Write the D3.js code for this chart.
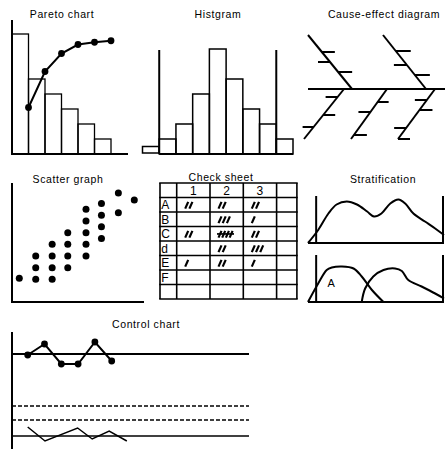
<!DOCTYPE html>
<html>
<head>
<meta charset="utf-8">
<script src="https://cdn.jsdelivr.net/npm/d3@7"></script>
<style>
  html, body { margin: 0; padding: 0; background: #fff; }
  svg { display: block; }
  text { font-family: "Liberation Sans", Arial, sans-serif; font-size: 10.5px; letter-spacing: 0.6px; fill: #000; }
  text.lbl { font-size: 12px; letter-spacing: 0; }
</style>
</head>
<body>
<svg id="chart" width="445" height="449"></svg>
<script>
// ---------- Pareto chart ----------
const paretoCategories = ["a", "b", "c", "d", "e", "f"];
const paretoCounts = [8, 5, 4, 3, 2, 1];
const paretoCumulative = [3.1, 5.5, 6.7, 7.3, 7.45, 7.55];

// ---------- Histogram ----------
const histBins = [0, 1, 2, 3, 4, 5, 6, 7, 8];
const histCounts = [0.5, 1, 2, 4, 7, 5, 3, 2, 1];
const histSpecLimits = [1, 8];

// ---------- Cause-effect (fishbone) ----------
const fishSpine = [0, 137];
const fishBones = [
  { from: [0, -54], to: [44, 0] },
  { from: [75, -54], to: [118, 0] },
  { from: [36, 0], to: [-4, 50] },
  { from: [79, 0], to: [43, 50] },
  { from: [127, 0], to: [90, 50] }
];
// [bone, level along the bone, side (+1 right / -1 left), length]
const fishTicks = [
  [0, -37, 1, 13], [0, -27, -1, 12], [0, -17, 1, 14],
  [1, -38, 1, 15], [1, -24, -1, 13], [1, -14, 1, 15],
  [2, 8, -1, 12], [2, 26, 1, 12], [2, 38, -1, 11],
  [3, 13, 1, 11], [3, 23, -1, 12], [3, 46, 1, 13],
  [4, 11, -1, 12], [4, 21, 1, 13], [4, 39, -1, 12], [4, 50, 1, 12]
];

// ---------- Scatter graph ----------
const scatterX = [1, 2, 2, 2, 3, 3, 3, 3, 3.95, 3.95, 3.95, 3.95, 5.06, 5.06, 5.06, 5.06, 5.06, 6, 6, 6, 6, 7.03, 7.03, 8];
const scatterY = [1.1, 1, 2, 3, 1, 2, 3, 4, 2, 3, 4, 5, 3, 4, 5, 6, 7, 4.5, 5.5, 6.5, 7.5, 6.7, 8.4, 7.8];

// ---------- Check sheet ----------
const checkColumns = ["1", "2", "3", ""];
const checkRows = ["A", "B", "C", "d", "E", "F", ""];
const checkTallies = [
  [2, 2, 2, 0],
  [0, 3, 1, 0],
  [2, 5, 2, 0],
  [0, 2, 3, 0],
  [1, 2, 1, 0],
  [0, 0, 0, 0],
  [0, 0, 0, 0]
];

// ---------- Stratification ----------
const strataTotal = [[0, 0], [1.5, 2.6], [3.0, 5.9], [4.2, 7.7], [5.7, 8.3], [7.2, 7.7], [8.7, 6.3], [9.7, 5.3],
  [10.8, 5.9], [12.1, 7.9], [13.3, 8.7], [14.3, 7.9], [15.5, 5.9], [17.2, 4.3], [18.7, 2.9], [20, 1.6]];
const strataA = [[0, 0], [1.5, 3.7], [2.75, 6.4], [3.5, 6.9], [5.0, 7.1], [6.7, 6.7], [7.9, 5.1], [9.4, 2.4], [11.1, 0]];
const strataB = [[7.9, 0], [8.4, 2.7], [9.6, 5.1], [11.1, 6.4], [12.8, 6.7], [13.8, 6.2], [14.75, 4.4], [16.7, 3.1], [18.7, 1.7], [20, 0.7]];
const strataLimits = [1.2, 19.85];
const strataLabel = ["A", 3.4, 3.8];

// ---------- Control chart ----------
const controlSamples = [0, 1, 2, 3, 4, 5];
const controlMeans = [9.1, 10.2, 8.2, 8.2, 10.4, 8.5];
const controlRangeX = [0, 1.03, 2.97, 3.84, 4.85, 5.9];
const controlRanges = [1.9, 0.5, 1.8, 0.7, 1.5, 0.5];
const controlLines = [9.2, 4.0, 2.6, 1.0];

const titles = [
  ["Pareto chart", 62, 18],
  ["Histgram", 218, 18],
  ["Cause-effect diagram", 384, 18],
  ["Scatter graph", 68, 183],
  ["Check sheet", 221, 181],
  ["Stratification", 383, 183],
  ["Control chart", 146, 328]
];

const svg = d3.select("#chart");
const ink = "#000";

svg.selectAll("text.title").data(titles).join("text")
  .attr("class", "title")
  .attr("x", d => d[1]).attr("y", d => d[2])
  .attr("text-anchor", "middle")
  .text(d => d[0]);

function hline(g, x1, x2, y, w) {
  g.append("line").attr("x1", x1).attr("x2", x2).attr("y1", y).attr("y2", y)
    .attr("stroke", ink).attr("stroke-width", w);
}
function vline(g, x, y1, y2, w) {
  g.append("line").attr("x1", x).attr("x2", x).attr("y1", y1).attr("y2", y2)
    .attr("stroke", ink).attr("stroke-width", w);
}

// ===== Pareto =====
{
  const g = svg.append("g");
  const x = d3.scaleBand().domain(paretoCategories).range([12, 111]);
  const y = d3.scaleLinear().domain([0, 8]).range([154, 34]);
  const bw = x.bandwidth();
  g.selectAll("rect").data(paretoCounts).join("rect")
    .attr("x", (d, i) => x(paretoCategories[i]))
    .attr("y", d => y(d))
    .attr("width", bw)
    .attr("height", d => y(0) - y(d))
    .attr("fill", "none").attr("stroke", ink).attr("stroke-width", 1.3);
  vline(g, 12, 20, 155, 2);
  hline(g, 11, 128, y(0), 2);
  const line = d3.line()
    .x((d, i) => x(paretoCategories[i]) + bw)
    .y(d => y(d));
  g.append("path").attr("d", line(paretoCumulative))
    .attr("fill", "none").attr("stroke", ink).attr("stroke-width", 2);
  g.selectAll("circle").data(paretoCumulative).join("circle")
    .attr("cx", (d, i) => x(paretoCategories[i]) + bw)
    .attr("cy", d => y(d)).attr("r", 3.4).attr("fill", ink);
}

// ===== Histogram =====
{
  const g = svg.append("g");
  const x = d3.scaleLinear().domain([0, 9]).range([142.5, 293]);
  const y = d3.scaleLinear().domain([0, 7]).range([154, 49]);
  const bw = x(1) - x(0);
  g.selectAll("rect").data(histCounts).join("rect")
    .attr("x", (d, i) => x(histBins[i]))
    .attr("y", d => y(d))
    .attr("width", bw)
    .attr("height", d => y(0) - y(d) - (d < 1 ? 1 : 0))
    .attr("fill", "none").attr("stroke", ink).attr("stroke-width", 1.5);
  hline(g, x(1), x(9), y(0), 2);
  histSpecLimits.forEach(v => vline(g, x(v), 50, y(0), 2));
}

// ===== Cause-effect =====
{
  const g = svg.append("g");
  const x = d3.scaleLinear().domain([0, 137]).range([308, 445]);
  const y = d3.scaleLinear().domain([-54, 54]).range([35, 143]);
  hline(g, x(fishSpine[0]), x(fishSpine[1]), y(0), 2);
  g.selectAll("line.bone").data(fishBones).join("line")
    .attr("class", "bone")
    .attr("x1", d => x(d.from[0])).attr("y1", d => y(d.from[1]))
    .attr("x2", d => x(d.to[0])).attr("y2", d => y(d.to[1]))
    .attr("stroke", ink).attr("stroke-width", 2);
  const boneX = (b, lv) => {
    const t = (lv - b.from[1]) / (b.to[1] - b.from[1]);
    return b.from[0] + t * (b.to[0] - b.from[0]);
  };
  g.selectAll("line.tick").data(fishTicks).join("line")
    .attr("class", "tick")
    .attr("x1", d => x(boneX(fishBones[d[0]], d[1])))
    .attr("x2", d => x(boneX(fishBones[d[0]], d[1]) + d[2] * d[3]))
    .attr("y1", d => y(d[1])).attr("y2", d => y(d[1]))
    .attr("stroke", ink).attr("stroke-width", 2);
}

// ===== Scatter =====
{
  const g = svg.append("g");
  const x = d3.scaleLinear().domain([1, 8]).range([19.3, 134.3]);
  const y = d3.scaleLinear().domain([1, 7]).range([279.3, 209.3]);
  vline(g, 12, 183, 303, 2);
  hline(g, 11, 144, 302, 2);
  g.selectAll("circle").data(scatterX).join("circle")
    .attr("cx", d => x(d))
    .attr("cy", (d, i) => y(scatterY[i]))
    .attr("r", 3.5).attr("fill", ink);
}

// ===== Check sheet =====
{
  const g = svg.append("g");
  const left = 160, labelW = 16.7, cellW = 33.3, lastW = 20.3;
  const colEdges = [left, left + labelW];
  checkColumns.forEach((c, i) => colEdges.push(colEdges[colEdges.length - 1] + (i < 3 ? cellW : lastW)));
  const rowIds = d3.range(checkRows.length + 1);
  const yb = d3.scaleBand().domain(rowIds).range([183, 299]);
  const top = yb.range()[0], bottom = yb.range()[1];
  colEdges.forEach(cx => vline(g, cx, top, bottom, 1.6));
  rowIds.concat([rowIds.length]).forEach(r => {
    const yy = r < rowIds.length ? yb(r) : bottom;
    hline(g, colEdges[0] - 0.8, colEdges[colEdges.length - 1] + 0.8, yy, 1.6);
  });
  // column headers
  g.selectAll("text.col").data(checkColumns).join("text")
    .attr("class", "lbl col")
    .attr("x", (d, i) => (colEdges[i + 1] + colEdges[i + 2]) / 2)
    .attr("y", yb(0) + yb.bandwidth() / 2 + 4.5)
    .attr("text-anchor", "middle").text(d => d);
  // row labels
  g.selectAll("text.row").data(checkRows).join("text")
    .attr("class", "lbl row")
    .attr("x", left + 1.2)
    .attr("y", (d, i) => yb(i + 1) + yb.bandwidth() / 2 + 4.5)
    .text(d => d);
  // tally marks
  checkTallies.forEach((row, ri) => {
    row.forEach((n, ci) => {
      if (!n) return;
      const cy = yb(ri + 1) + yb.bandwidth() / 2 + 0.5;
      const x0 = colEdges[ci + 1] + 8.5;
      const strokes = Math.min(n, 4);
      for (let k = 0; k < strokes; k++) {
        const sx = x0 + k * (n >= 5 ? 3.7 : 4.2);
        g.append("line")
          .attr("x1", sx).attr("y1", cy + 3.4)
          .attr("x2", sx + 3).attr("y2", cy - 3.4)
          .attr("stroke", ink).attr("stroke-width", 2.2);
      }
      if (n >= 5) hline(g, x0 - 1.5, x0 + 15.5, cy - 0.3, 1.7);
    });
  });
}

// ===== Stratification =====
{
  const g = svg.append("g");
  const x = d3.scaleLinear().domain([0, 20]).range([308, 444]);
  const yTop = d3.scaleLinear().domain([0, 10]).range([243, 193]);
  const yBot = d3.scaleLinear().domain([0, 10]).range([302, 252]);
  const curve = d3.curveCatmullRom.alpha(0.5);
  [[yTop, [strataTotal]], [yBot, [strataA, strataB]]].forEach(([y, series]) => {
    hline(g, x(0), x(20), y(0), 2);
    strataLimits.forEach(v => vline(g, x(v), y(9.4), y(0), 2));
    const line = d3.line().x(d => x(d[0])).y(d => y(d[1])).curve(curve);
    series.forEach(s => g.append("path").attr("d", line(s))
      .attr("fill", "none").attr("stroke", ink).attr("stroke-width", 2));
  });
  g.append("text").attr("class", "lbl")
    .style("font-size", "11px")
    .attr("x", x(strataLabel[1])).attr("y", yBot(strataLabel[2]) + 4)
    .attr("text-anchor", "middle").text(strataLabel[0]);
}

// ===== Control chart =====
{
  const g = svg.append("g");
  const x = d3.scaleLinear().domain([0, 5]).range([27.7, 111.7]);
  const y = d3.scaleLinear().domain([0, 10]).range([446, 346]);
  vline(g, 12, 332, 449, 2);
  controlLines.forEach((v, i) => {
    const l = g.append("line").attr("x1", 12).attr("x2", 249)
      .attr("y1", y(v)).attr("y2", y(v)).attr("stroke", ink)
      .attr("stroke-width", i === 0 ? 2 : 1.5);
    if (i === 1 || i === 2) l.attr("stroke-dasharray", "4,2");
  });
  const meanLine = d3.line().x((d, i) => x(controlSamples[i])).y(d => y(d));
  g.append("path").attr("d", meanLine(controlMeans))
    .attr("fill", "none").attr("stroke", ink).attr("stroke-width", 2);
  g.selectAll("circle").data(controlMeans).join("circle")
    .attr("cx", (d, i) => x(controlSamples[i])).attr("cy", d => y(d))
    .attr("r", 3.4).attr("fill", ink);
  const rangeLine = d3.line().x((d, i) => x(controlRangeX[i])).y(d => y(d));
  g.append("path").attr("d", rangeLine(controlRanges))
    .attr("fill", "none").attr("stroke", ink).attr("stroke-width", 1.5);
}
</script>
</body>
</html>
